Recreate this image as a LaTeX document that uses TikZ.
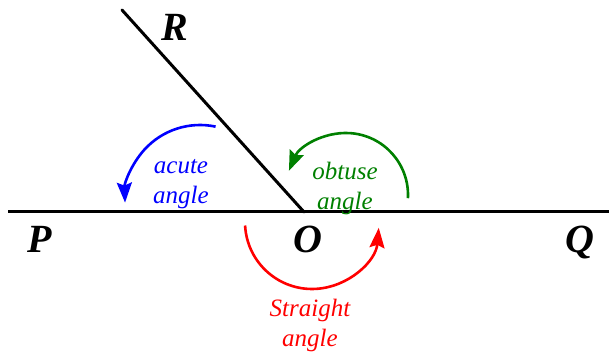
\documentclass[tikz,border=0pt]{standalone}
\usepackage{fontspec}
\setmainfont{Liberation Serif}
\usetikzlibrary{arrows.meta}
\begin{document}
\begin{tikzpicture}[x=1pt,y=1pt,
  ray/.style={line width=3pt},
  anglearc/.style={line width=2.6pt,-{Stealth[length=20pt,width=15pt,inset=3pt]}},
  ptlabel/.style={font=\fontsize{40}{44}\selectfont\bfseries\itshape,anchor=base,inner sep=0pt},
  anglelabel/.style={font=\fontsize{25}{30}\selectfont\itshape,align=center,inner sep=0pt}]
\useasboundingbox (0,0) rectangle (609,352);
\coordinate (Pend) at (8,140);
\coordinate (Qend) at (609,140);
\coordinate (O) at (304,140);
\coordinate (Rend) at (122,342);
\draw[ray] (Pend) -- (Qend);
\draw[ray,line cap=round] (O) -- (Rend);
\node[ptlabel] (R) at (175,311) {R};
\node[ptlabel] (P) at (40,99) {P};
\node[ptlabel] (Olab) at (308,99) {O};
\node[ptlabel] (Q) at (580,99) {Q};
% acute
\coordinate (ac) at (200,152);
\draw[anglearc,blue] ([shift={(78:75)}]ac) arc[start angle=78,end angle=182,radius=75];
\node[anglelabel,text=blue] (acute) at (181,168) {acute\\angle};
% obtuse
\coordinate (oc) at (346,157);
\draw[anglearc,green!50!black] ([shift={(-3:62)}]oc) arc[start angle=-3,end angle=157,radius=62];
\node[anglelabel,text=green!50!black] (obtuse) at (345,164) {obtuse\\angle};
% straight
\coordinate (sc) at (312,130);
\draw[anglearc,red] ([shift={(183:67)}]sc) arc[start angle=183,end angle=355,radius=67];
\node[anglelabel,text=red] (straight) at (310,27) {Straight\\angle};
\end{tikzpicture}
\end{document}
